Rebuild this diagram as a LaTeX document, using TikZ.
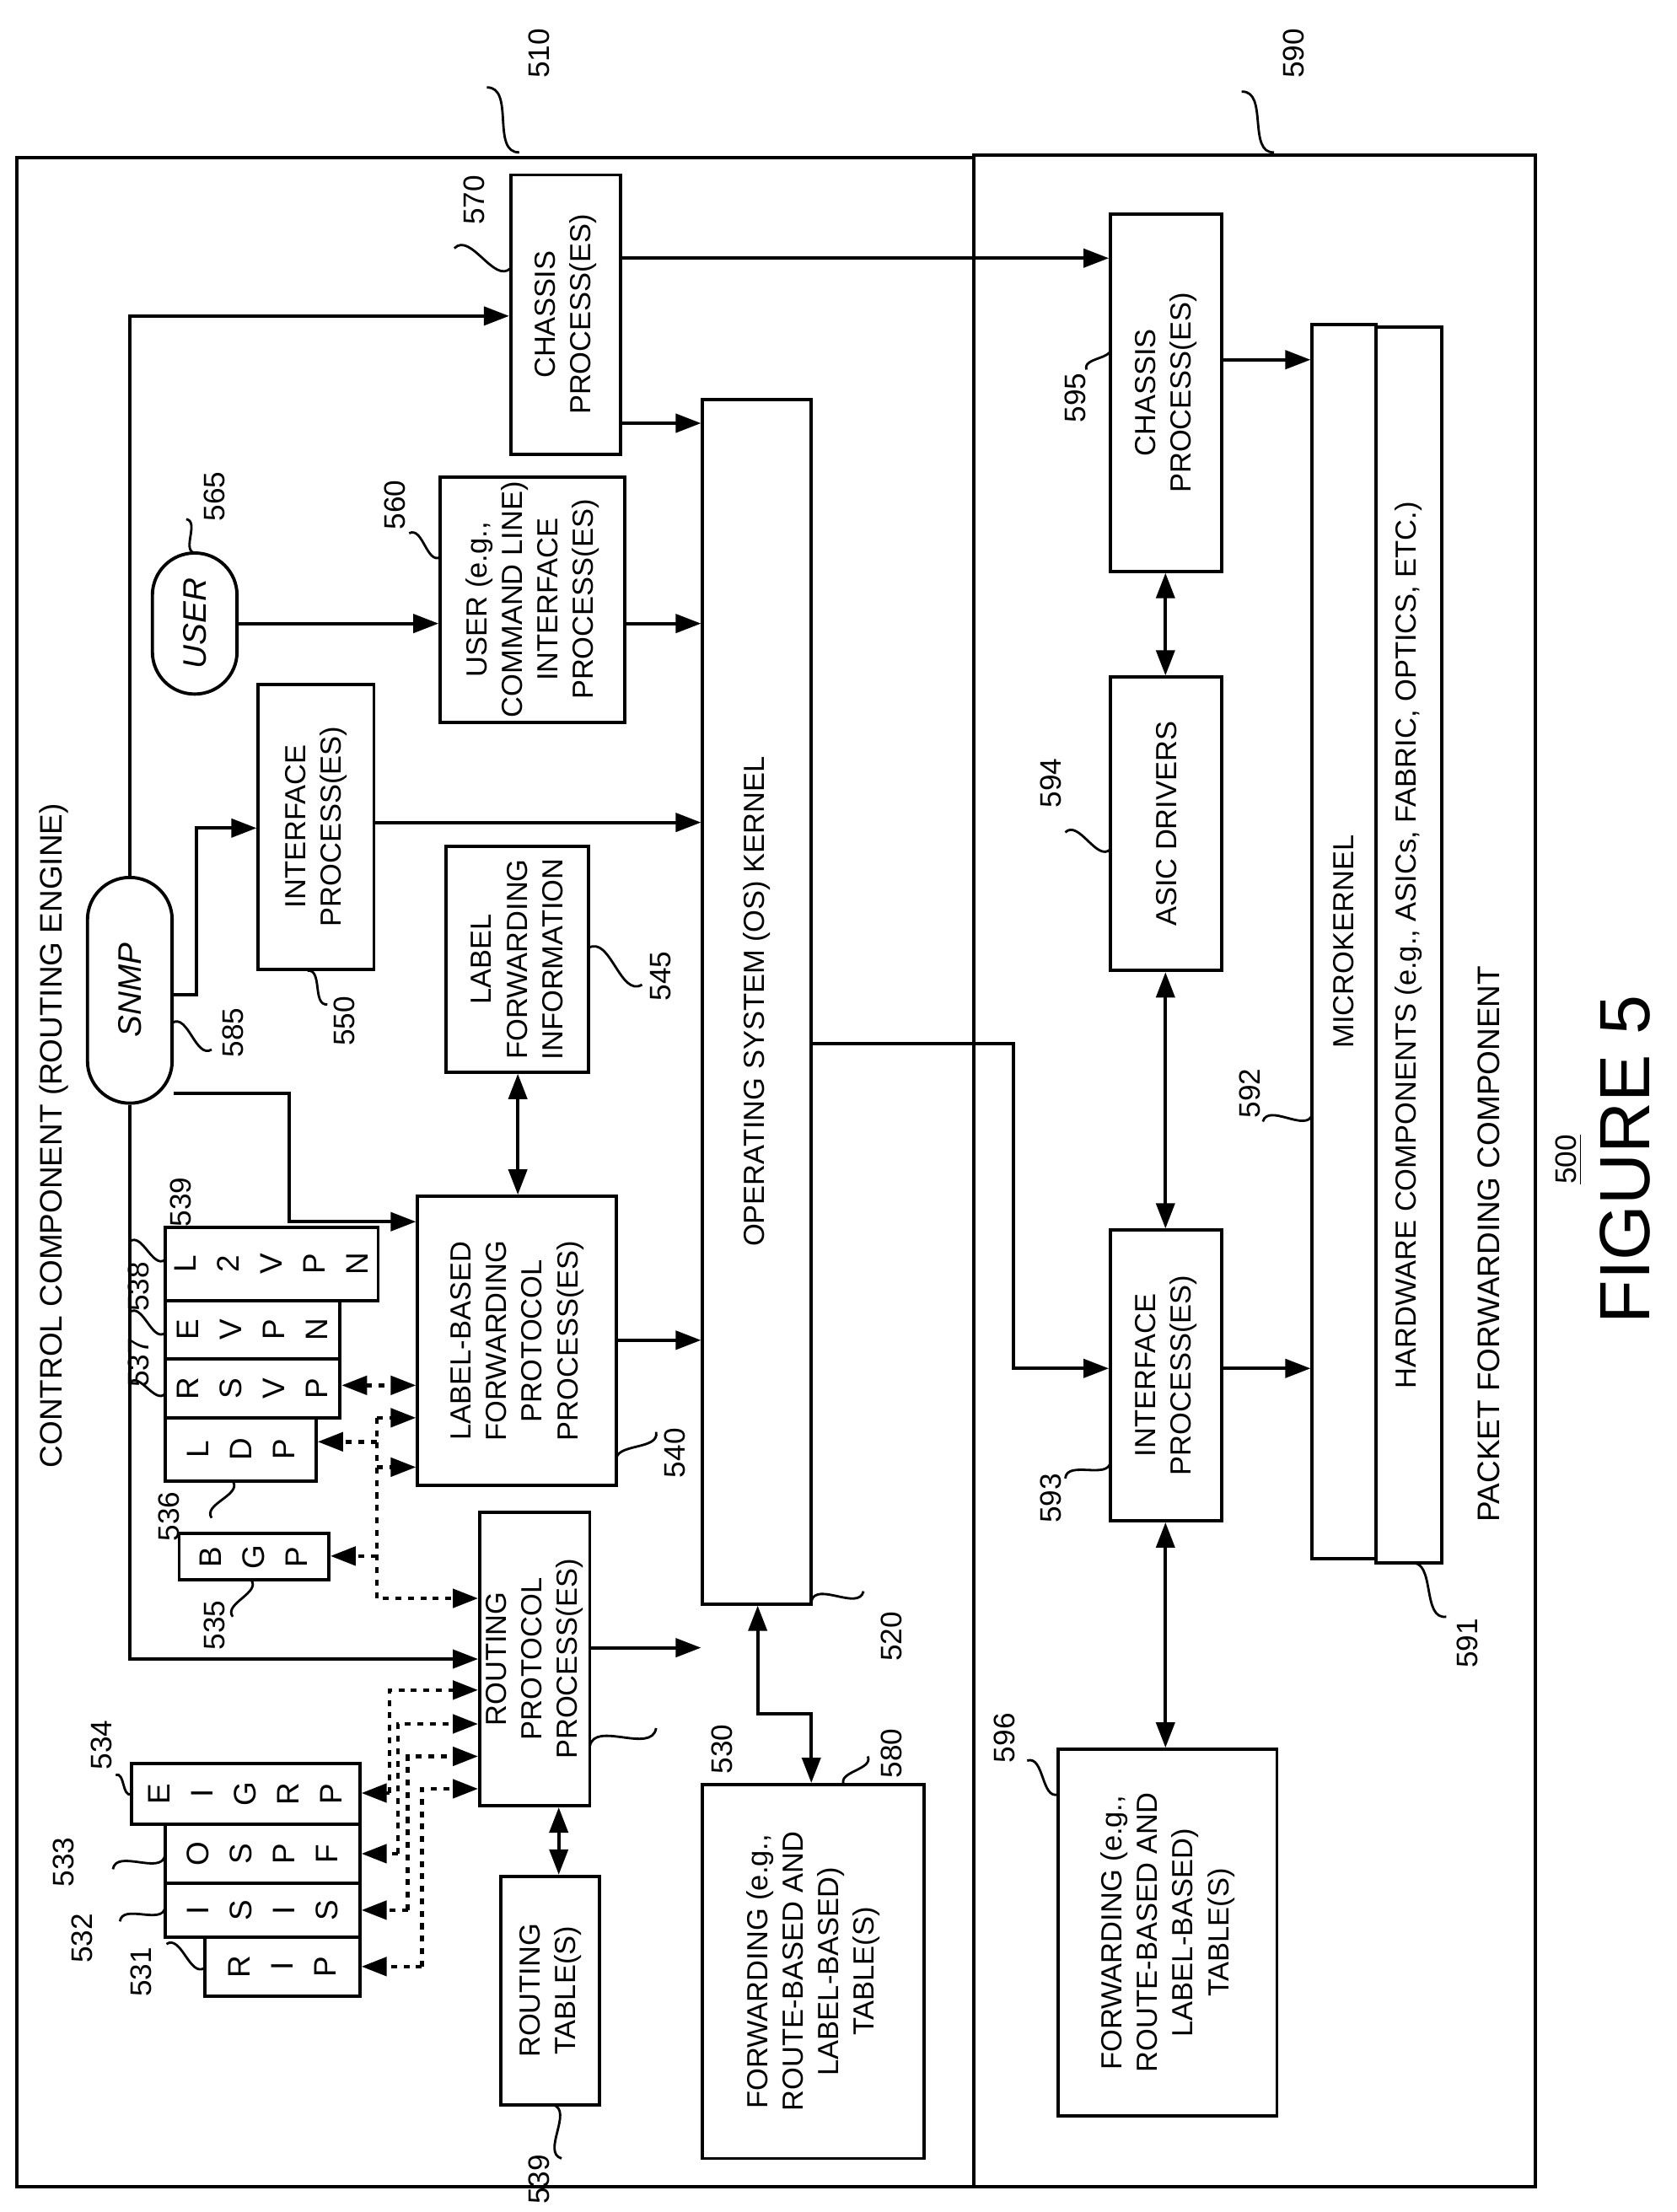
\documentclass[tikz,border=0pt]{standalone}
\usepackage{fontspec}
\setmainfont{Liberation Sans}
\usetikzlibrary{positioning,fit,arrows.meta}

\tikzset{
  blk/.style={draw, line width=1.1pt, inner sep=0pt},
  rnd/.style={blk, rounded corners=0.5cm},
  txt/.style={rotate=90, align=center, font=\fontsize{9.8}{12}\selectfont},
  col/.style={rotate=90, align=center, font=\fontsize{10.5}{14.5}\selectfont},
  num/.style={rotate=90, font=\fontsize{10}{12}\selectfont},
  con/.style={line width=1.1pt, -{Triangle[length=3mm,width=2.2mm]}},
  dbl/.style={line width=1.1pt, {Triangle[length=3mm,width=2.2mm]}-{Triangle[length=3mm,width=2.2mm]}},
  dot/.style={line width=1.3pt, dash pattern=on 2pt off 2.2pt, -{Triangle[length=3mm,width=2.2mm]}},
  ddot/.style={dot, {Triangle[length=3mm,width=2.2mm]}-{Triangle[length=3mm,width=2.2mm]}},
  lead/.style={line width=0.8pt}
}
% box with rotated text
\newcommand\blk[5][blk]{\node[#1, fit={(#3)(#4)}] (#2) {};
  \node[txt] at (#2) {#5};}
% reference numeral with wiggly leader
\newcommand\refnum[4]{\draw[lead] (#1) to[out=65,in=-115,relative] (#2);
  \node[num] at (#3) {#4};}

\begin{document}
\begin{tikzpicture}[x=0.01673cm, y=-0.01673cm]
  \useasboundingbox (0,0) rectangle (1188,1568);

  % the two components
  \node[blk, fit={(12,112)(690,1550)}] (ctl) {};
  \node[blk, fit={(690,110)(1088,1550)}] (pfc) {};
  \node[txt, font=\fontsize{10.5}{13}\selectfont] at (38,805) {CONTROL COMPONENT (ROUTING ENGINE)};
  \node[txt, font=\fontsize{10.5}{13}\selectfont] at (1055,882) {PACKET FORWARDING COMPONENT};

  % control component blocks
  \blk{ch570}{362,124}{440,322}{CHASSIS\\PROCESS(ES)}
  \blk{kern}{498,283}{575,1137}{OPERATING SYSTEM (OS) KERNEL}
  \blk{cli}{312,338}{443,512}{USER (e.g.,\\COMMAND LINE)\\INTERFACE\\PROCESS(ES)}
  \node[rnd, fit={(108,392)(168,492)}] (usr) {};
  \node[txt, font=\fontsize{11}{13}\selectfont\itshape] at (usr) {USER};
  \blk{if550}{183,485}{265,687}{INTERFACE\\PROCESS(ES)}
  \blk{lfi}{316,600}{417,760}{LABEL\\FORWARDING\\INFORMATION}
  \node[rnd, fit={(62,622)(122,782)}] (snmp) {};
  \node[txt, font=\fontsize{11}{13}\selectfont\itshape] at (snmp) {SNMP};
  \blk{lbp}{296,848}{437,1053}{LABEL-BASED\\FORWARDING\\PROTOCOL\\PROCESS(ES)}
  \blk{rpp}{340,1072}{418,1280}{ROUTING\\PROTOCOL\\PROCESS(ES)}
  \blk{rtab}{355,1330}{425,1492}{ROUTING\\TABLE(S)}
  \blk{ftab}{498,1265}{655,1530}{FORWARDING (e.g.,\\ROUTE-BASED AND\\LABEL-BASED)\\TABLE(S)}

  % protocol columns
  \node[blk, fit={(117,870)(268,922)}] (l2vpn) {};
  \node[col] at (l2vpn) {L\\2\\V\\P\\N};
  \node[blk, fit={(117,922)(241,963)}] (evpn) {};
  \node[col] at (evpn) {E\\V\\P\\N};
  \node[blk, fit={(117,963)(241,1005)}] (rsvp) {};
  \node[col] at (rsvp) {R\\S\\V\\P};
  \node[blk, fit={(117,1005)(224,1050)}] (ldp) {};
  \node[col] at (ldp) {L\\D\\P};
  \node[blk, fit={(127,1087)(233,1120)}] (bgp) {};
  \node[col] at (bgp) {B\\G\\P};
  \node[blk, fit={(93,1250)(255,1293)}] (eigrp) {};
  \node[col] at (eigrp) {E\\I\\G\\R\\P};
  \node[blk, fit={(117,1293)(255,1335)}] (ospf) {};
  \node[col] at (ospf) {O\\S\\P\\F};
  \node[blk, fit={(117,1335)(255,1373)}] (isis) {};
  \node[col] at (isis) {I\\S\\I\\S};
  \node[blk, fit={(145,1373)(255,1415)}] (rip) {};
  \node[col] at (rip) {R\\I\\P};

  % packet forwarding blocks
  \blk{ch595}{787,152}{866,405}{CHASSIS\\PROCESS(ES)}
  \blk{asic}{787,480}{866,688}{ASIC DRIVERS}
  \blk{if593}{787,872}{866,1078}{INTERFACE\\PROCESS(ES)}
  \blk{ftab2}{750,1240}{905,1500}{FORWARDING (e.g.,\\ROUTE-BASED AND\\LABEL-BASED)\\TABLE(S)}
  \blk{mk}{930,230}{975,1105}{MICROKERNEL}
  \blk{hw}{975,232}{1022,1108}{HARDWARE COMPONENTS (e.g., ASICs, FABRIC, OPTICS, ETC.)}

  % solid connectors
  \draw[con] (ch570.east |- 0,183) -- (ch595.west |- 0,183);
  \draw[con] (ch570.east |- 0,300) -- (kern.west |- 0,300);
  \draw[con] (usr.east |- 0,442) -- (cli.west |- 0,442);
  \draw[con] (cli.east |- 0,442) -- (kern.west |- 0,442);
  \draw[con] (if550.east |- 0,583) -- (kern.west |- 0,583);
  \draw[con] (snmp.east |- 0,705) -- (139,705) |- (if550.west |- 0,587);
  \draw[con] (snmp.north) |- (ch570.west |- 0,224);
  \draw[con] (snmp.south) |- (rpp.west |- 0,1176);
  \draw[con] (snmp.east |- 0,775) -- (205,775) |- (lbp.west |- 0,866);
  \draw[dbl] (lfi.south -| 367,0) -- (lbp.north -| 367,0);
  \draw[con] (lbp.east |- 0,950) -- (kern.west |- 0,950);
  \draw[con] (rpp.east |- 0,1168) -- (kern.west |- 0,1168);
  \draw[dbl] (rpp.south -| 396,0) -- (rtab.north -| 396,0);
  \draw[dbl] (kern.south -| 537,0) -- (537,1215) -| (ftab.north -| 575,0);
  \draw[con] (kern.east |- 0,740) -- (718,740) |- (if593.west |- 0,970);
  \draw[con] (ch595.east |- 0,255) -- (mk.west |- 0,255);
  \draw[con] (if593.east |- 0,970) -- (mk.west |- 0,970);
  \draw[dbl] (ch595.south -| 826,0) -- (asic.north -| 826,0);
  \draw[dbl] (asic.south -| 826,0) -- (if593.north -| 826,0);
  \draw[dbl] (if593.south -| 826,0) -- (ftab2.north -| 826,0);

  % dotted connectors
  \draw[ddot] (rsvp.east |- 0,982) -- (lbp.west |- 0,982);
  \draw[dot] (267,1005) -- (lbp.west |- 0,1005);
  \draw[dot] (267,1022) -- (ldp.east |- 0,1022);
  \draw[dot] (267,1040) -- (lbp.west |- 0,1040);
  \draw[dot] (267,1103) -- (bgp.east |- 0,1103);
  \draw[dot] (267,1005) |- (rpp.west |- 0,1133);
  \draw[dot] (276,1271) |- (rpp.west |- 0,1198);
  \draw[dot] (282,1314) |- (rpp.west |- 0,1222);
  \draw[dot] (289,1354) |- (rpp.west |- 0,1245);
  \draw[dot] (299,1394) |- (rpp.west |- 0,1268);
  \draw[dot] (276,1271) -- (eigrp.east |- 0,1271);
  \draw[dot] (282,1314) -- (ospf.east |- 0,1314);
  \draw[dot] (289,1354) -- (isis.east |- 0,1354);
  \draw[dot] (299,1394) -- (rip.east |- 0,1394);

  % reference numerals
  \refnum{345,62}{368,108}{382,38}{510}
  \refnum{880,65}{903,108}{917,38}{590}
  \refnum{322,176}{362,190}{336,142}{570}
  \refnum{132,368}{138,392}{152,352}{565}
  \refnum{290,378}{312,395}{280,358}{560}
  \refnum{218,688}{232,712}{244,724}{550}
  \refnum{417,672}{455,698}{468,692}{545}
  \refnum{122,725}{150,744}{165,732}{585}
  \refnum{92,880}{117,893}{128,852}{539}
  \refnum{92,930}{117,945}{98,912}{538}
  \refnum{92,980}{117,988}{98,966}{537}
  \refnum{165,1050}{150,1076}{120,1075}{536}
  \refnum{178,1120}{165,1146}{152,1152}{535}
  \refnum{82,1258}{93,1272}{72,1237}{534}
  \refnum{80,1325}{117,1315}{45,1320}{533}
  \refnum{85,1362}{117,1352}{58,1374}{532}
  \refnum{118,1378}{145,1395}{100,1398}{531}
  \refnum{418,1238}{465,1225}{512,1240}{530}
  \refnum{392,1492}{398,1530}{382,1545}{539}
  \refnum{575,1135}{612,1128}{632,1160}{520}
  \refnum{437,1036}{465,1015}{478,1030}{540}
  \refnum{598,1265}{615,1245}{632,1243}{580}
  \refnum{770,262}{787,246}{762,282}{595}
  \refnum{755,590}{787,602}{745,555}{594}
  \refnum{755,1048}{787,1036}{745,1062}{593}
  \refnum{728,1248}{750,1272}{712,1232}{596}
  \refnum{895,795}{930,790}{886,775}{592}
  \refnum{1000,1108}{1025,1146}{1040,1165}{591}

  % figure caption
  \node[num] (fignum) at (1112,822) {\underline{500}};
  \node[rotate=90, font=\fontsize{24}{28}\selectfont] (figcap) at (1152,822) {FIGURE 5};
\end{tikzpicture}
\end{document}
